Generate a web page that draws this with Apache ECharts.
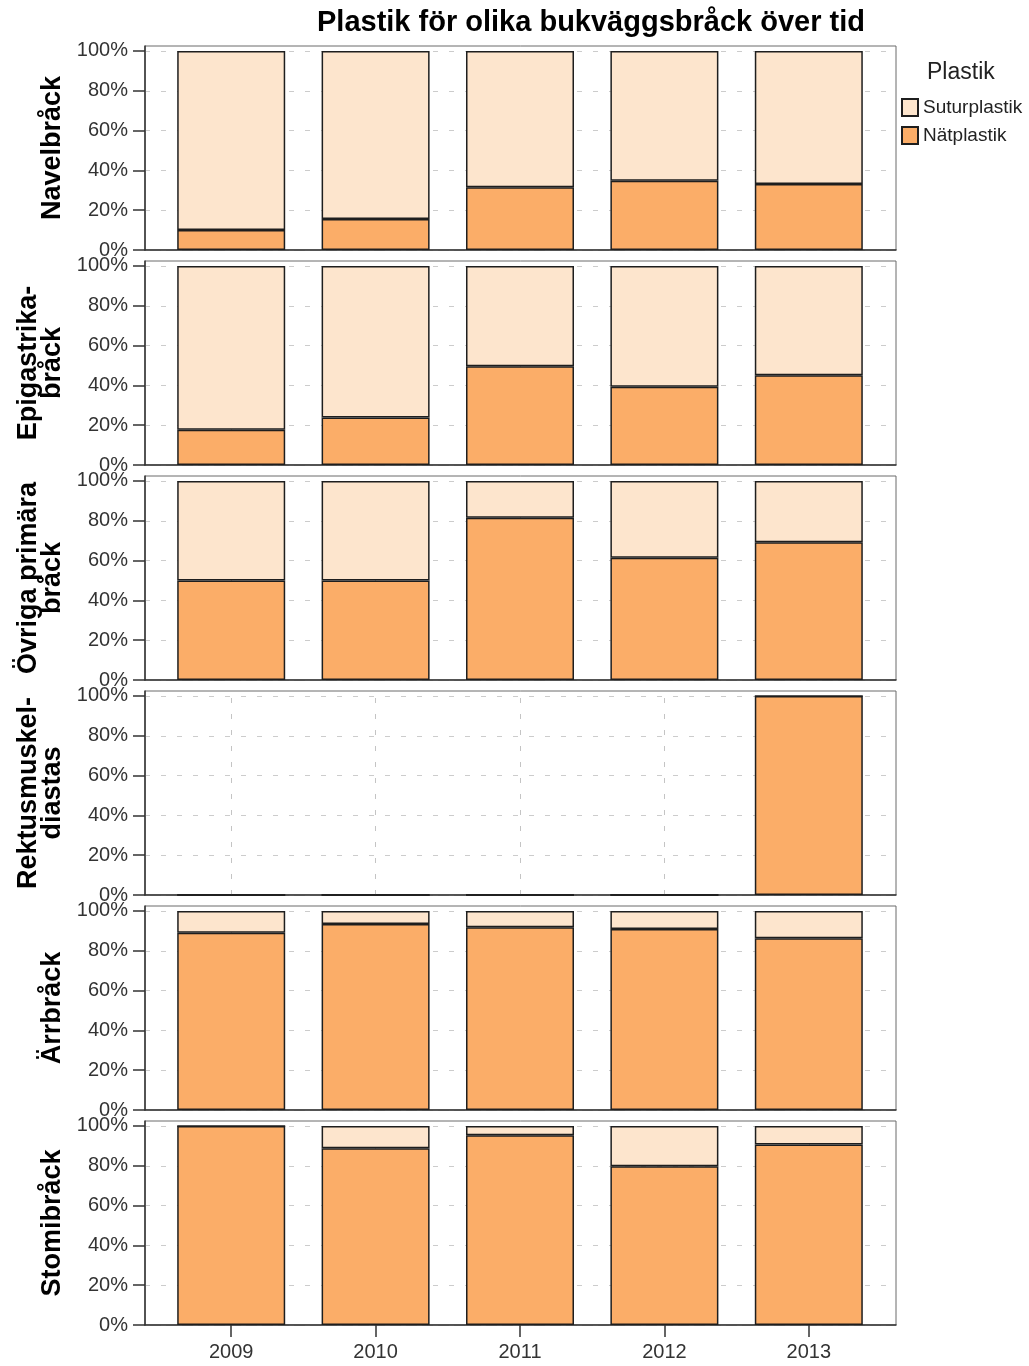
<!DOCTYPE html>
<html>
<head>
<meta charset="utf-8">
<script src="https://cdn.jsdelivr.net/npm/echarts@6/dist/echarts.min.js"></script>
<style>
html, body { margin: 0; padding: 0; background: #ffffff; }
#chart { width: 1029px; height: 1366px; }
</style>
</head>
<body>
<div id="chart"></div>
<script>
// ---------- data ----------
const years = ['2009', '2010', '2011', '2012', '2013'];
const panelNames = ['Navelbråck', 'Epigastrika-\nbråck', 'Övriga primära\nbråck', 'Rektusmuskel-\ndiastas', 'Ärrbråck', 'Stomibråck'];
const percentTicks = [0, 20, 40, 60, 80, 100];
const seriesNames = ['Suturplastik', 'Nätplastik'];

// Nätplastik (%), per panel
const natNavel = [10, 15.6, 31.5, 34.8, 33.2];
const natEpigastrika = [17.7, 23.9, 49.6, 39.3, 45.1];
const natOvriga = [50, 50, 81.5, 61.4, 69.2];
const natRektus = [0, 0, 0, 0, 100];
const natArr = [89, 93.5, 91.8, 91, 86.3];
const natStomi = [100, 88.8, 95.3, 79.8, 90.7];

// Suturplastik (%), per panel
const suturNavel = [90, 84.4, 68.5, 65.2, 66.8];
const suturEpigastrika = [82.3, 76.1, 50.4, 60.7, 54.9];
const suturOvriga = [50, 50, 18.5, 38.6, 30.8];
const suturRektus = [0, 0, 0, 0, 0];
const suturArr = [11, 6.5, 8.2, 9, 13.7];
const suturStomi = [0, 11.2, 4.7, 20.2, 9.3];

const natData = [natNavel, natEpigastrika, natOvriga, natRektus, natArr, natStomi];
const suturData = [suturNavel, suturEpigastrika, suturOvriga, suturRektus, suturArr, suturStomi];

// ---------- style ----------
const FONT = 'Liberation Sans, Arial, sans-serif';
const COLOR_NAT = '#FBAD68';
const COLOR_SUTUR = '#FDE5CD';
const BORDER = '#1e1e1e';
const Y_MAX = 102.5;

const chart = echarts.init(document.getElementById('chart'), null, { renderer: 'canvas' });

const grids = [], xAxes = [], yAxes = [], series = [];
const nPanels = panelNames.length;

// frame grids (0..5): box, y axis, horizontal grid lines
for (let i = 0; i < nPanels; i++) {
  grids.push({
    left: 145, right: 133, top: 46 + i * 215, height: 204,
    show: true, borderColor: '#6a6a6a', borderWidth: 1, backgroundColor: 'transparent'
  });
  xAxes.push({
    type: 'value', gridIndex: i, min: 0, max: 1,
    axisLine: { show: true, onZero: false, lineStyle: { color: '#333', width: 1.5 } },
    axisTick: { show: false }, axisLabel: { show: false }, splitLine: { show: false }
  });
  yAxes.push({
    type: 'value', gridIndex: i, min: 0, max: Y_MAX, interval: 10,
    name: panelNames[i], nameLocation: 'middle', nameGap: 72,
    nameTextStyle: { fontFamily: FONT, fontSize: 27, fontWeight: 'bold', color: '#000', lineHeight: 24 },
    axisLine: { show: true, lineStyle: { color: '#333', width: 1.5 } },
    axisTick: { show: true, customValues: percentTicks, length: 12, lineStyle: { color: '#333', width: 1.5 } },
    axisLabel: {
      show: true, customValues: percentTicks, margin: 17,
      fontFamily: FONT, fontSize: 20, color: '#333',
      formatter: v => v + '%'
    },
    splitLine: { show: true, lineStyle: { type: [5, 11], color: '#cccccc', width: 1 } }
  });
}

// bar grids (6..11): category band spanning the bars
for (let i = 0; i < nPanels; i++) {
  const isLast = i === nPanels - 1;
  const g = nPanels + i;
  grids.push({ left: 159, right: 148, top: 46 + i * 215, height: 204, show: false });
  xAxes.push({
    type: 'category', gridIndex: g, data: years, boundaryGap: true,
    axisLine: { show: false },
    splitLine: { show: false },
    axisTick: isLast ? { show: true, alignWithLabel: true, length: 12, lineStyle: { color: '#333', width: 1.5 } } : { show: false },
    axisLabel: isLast ? { show: true, margin: 17, fontFamily: FONT, fontSize: 20, color: '#333' } : { show: false }
  });
  yAxes.push({
    type: 'value', gridIndex: g, min: 0, max: Y_MAX,
    show: false, splitLine: { show: false }
  });
  series.push({
    name: seriesNames[1], type: 'bar', stack: 'p' + i,
    xAxisIndex: g, yAxisIndex: g, barWidth: 108,
    data: natData[i],
    itemStyle: { color: COLOR_NAT, borderColor: BORDER, borderWidth: 1.5 },
    emphasis: { disabled: true },
    markLine: {
      silent: true, z: 1, symbol: ['none', 'none'], animation: false,
      label: { show: false },
      emphasis: { disabled: true },
      lineStyle: { type: [5, 11], color: '#c4c4c4', width: 1 },
      data: years.map(y => ({ xAxis: y }))
    }
  });
  series.push({
    name: seriesNames[0], type: 'bar', stack: 'p' + i,
    xAxisIndex: g, yAxisIndex: g, barWidth: 108,
    data: suturData[i],
    itemStyle: { color: COLOR_SUTUR, borderColor: BORDER, borderWidth: 1.5 },
    emphasis: { disabled: true }
  });
}

const option = {
  animation: false,
  backgroundColor: '#ffffff',
  title: [
    {
      text: 'Plastik för olika bukväggsbråck över tid',
      left: 317, top: 8, padding: 0,
      textStyle: { fontFamily: FONT, fontSize: 29, fontWeight: 'bold', color: '#000' }
    },
    {
      text: 'Plastik',
      left: 927, top: 61, padding: 0,
      textStyle: { fontFamily: FONT, fontSize: 23, fontWeight: 'normal', color: '#222' }
    }
  ],
  legend: {
    data: seriesNames,
    orient: 'vertical', left: 901, top: 98, padding: 0,
    itemWidth: 16, itemHeight: 17, itemGap: 9,
    icon: 'rect',
    selectedMode: false,
    textStyle: { fontFamily: FONT, fontSize: 19, color: '#222', padding: [0, 0, 0, 0] }
  },
  grid: grids,
  xAxis: xAxes,
  yAxis: yAxes,
  series: series
};
chart.setOption(option);
</script>
</body>
</html>
